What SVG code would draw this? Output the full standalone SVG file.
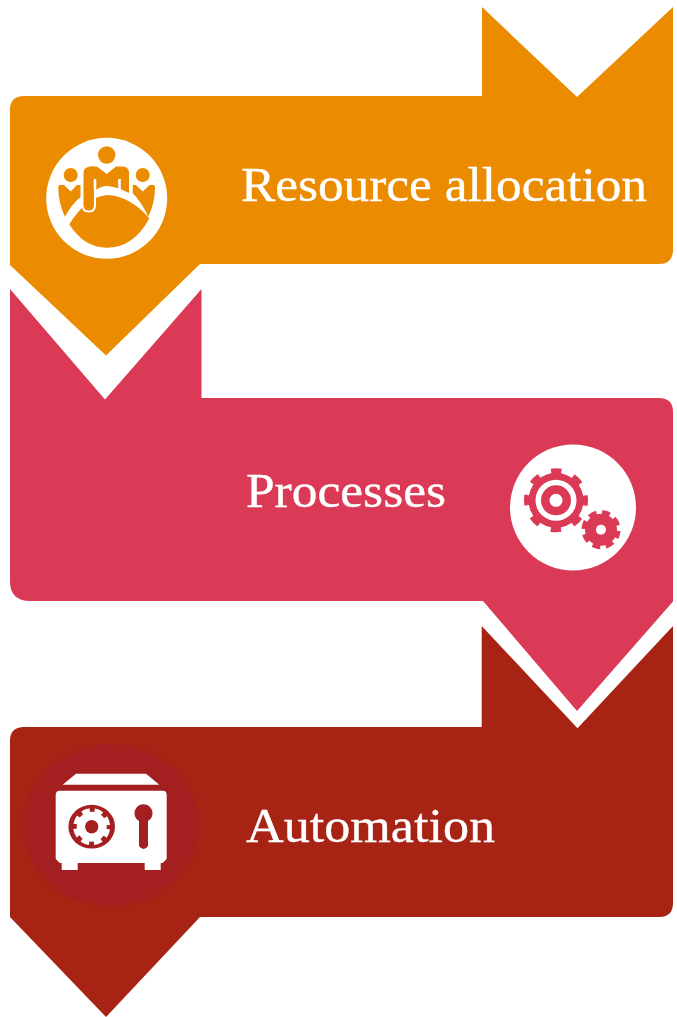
<svg xmlns="http://www.w3.org/2000/svg" width="677" height="1017" viewBox="0 0 677 1017">
<style>
.t{font-family:"Liberation Serif","DejaVu Serif",serif;font-size:49px;fill:#fff;stroke:#fff;stroke-width:.35px}
.o{fill:#eb8c00}.p{fill:#db3a57}.r{fill:#a72314}.w{fill:#fff}.d{fill:#a31f20}
.gb{fill:none;stroke:#db3a57}
</style>
<rect width="677" height="1017" fill="#fff"/>
<g id="resource-allocation">
<path class="o" d="M482 7L577 97L673 7V250Q673 264 659 264H200L106 355.500L10 265V110Q10 96 24 96H482Z"/>
<circle class="w" cx="106.700" cy="198.300" r="60.500"/>
<g class="o">
<circle cx="106.700" cy="155" r="8.700"/><circle cx="70.700" cy="175" r="7"/><circle cx="142.700" cy="175" r="7"/>
<path d="M90 166.500H97L106.700 174L116 166.500H123Q129 167 129 173V193Q118 187 107 186Q101 186 96 190H90Z"/>
<path d="M58.300 187Q58.300 185 60 185H64L70.700 191.500L77 185H80.500V197Q71 205 65 216.700Q58.300 203 58.300 187Z"/>
<path d="M155 187Q155 185 153.500 185H149.500L142.700 191.500L136 185H132.700V193Q142 203 148.300 216.700Q155 203 155 187Z"/>
<path d="M69.300 224.300Q86 197 107 195Q130 196 149.300 218.300Q134 247.700 106.700 247.700Q84 247.700 69.300 224.300Z"/>
</g>
<path class="w" d="M81.500 188H96V205Q96 212.500 89 212.500Q81.500 212.500 81.500 205Z"/>
<path class="o" d="M83.500 173Q83.500 167.200 90 166.500H94V205Q94 210.500 89 210.500Q83.500 210.500 83.500 205Z"/>
<path d="M95 179V190M119.500 179V191" stroke="#fff" stroke-width="2.600" fill="none"/>
<text class="t" x="241" y="201" textLength="406" lengthAdjust="spacingAndGlyphs">Resource allocation</text>
</g>
<g id="processes">
<path class="p" d="M10 289L105 399.500L201.500 289V398H659Q673 398 673 412V601.500L577 711L483 601H30Q10 601 10 581Z"/>
<circle class="w" cx="573" cy="507.500" r="63"/>
<g class="p">
<circle cx="556" cy="500.300" r="27.500"/>
<circle class="gb" cx="556" cy="500.300" r="28.500" stroke-width="7" stroke-dasharray="10 12.380" stroke-dashoffset="5"/>
<circle class="w" cx="556" cy="500.300" r="20.500"/>
<circle cx="556" cy="500.300" r="15"/>
<circle class="w" cx="556" cy="500.300" r="6.500"/>
<circle cx="601" cy="529.700" r="16"/>
<circle class="gb" cx="601" cy="529.700" r="17" stroke-width="5" stroke-dasharray="8 5.350" stroke-dashoffset="4" transform="rotate(15 601 529.700)"/>
<circle class="w" cx="601" cy="529.700" r="5"/>
</g>
<text class="t" x="246" y="507" textLength="200" lengthAdjust="spacingAndGlyphs">Processes</text>
</g>
<g id="automation">
<path class="r" d="M481.700 626L577.500 728.300L673 626V903Q673 917 659 917H200L106 1017L10 917V741Q10 727 24 727H481.700Z"/>
<ellipse class="d" cx="111" cy="825" rx="88" ry="81"/>
<path class="w" d="M62.700 784.700L76 773.700H146L159.300 784.700Z"/>
<path class="w" d="M60 790.700H162.700Q166.700 790.700 166.700 795V859L162.700 863H160.700V870H144.700V863H77.700V870H61.700V863H59.700L55.700 859V795Q55.700 790.700 60 790.700Z"/>
<ellipse class="d" cx="91.700" cy="826.700" rx="23.300" ry="21.900"/>
<circle cx="91.700" cy="826.700" r="15" class="w"/>
<circle cx="91.700" cy="826.700" r="16.500" fill="none" stroke="#fff" stroke-width="4" stroke-dasharray="8 4.960" stroke-dashoffset="-2.480"/>
<circle class="d" cx="91.700" cy="826.700" r="6.700"/>
<path class="d" d="M139 821A9 9 0 1 1 148 821V846Q146 849 143.500 849Q141 849 139 846Z"/>
<text class="t" x="246" y="842" textLength="249" lengthAdjust="spacingAndGlyphs">Automation</text>
</g>
<g id="connectors"/>
</svg>
